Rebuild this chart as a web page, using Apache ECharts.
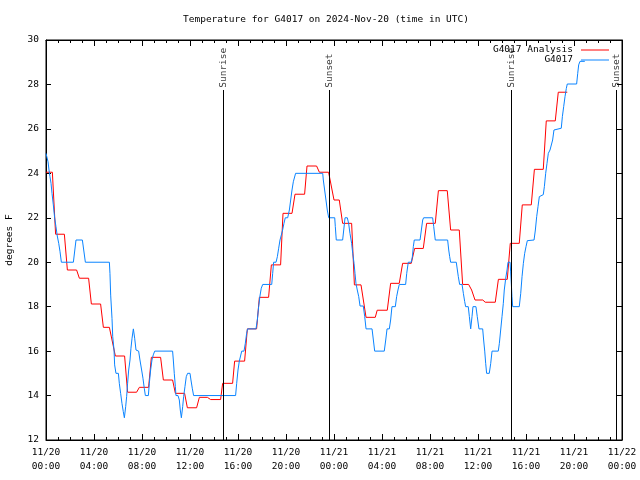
<!DOCTYPE html>
<html>
<head>
<meta charset="utf-8">
<script src="https://cdn.jsdelivr.net/npm/echarts@6/dist/echarts.min.js"></script>
<style>html,body{margin:0;padding:0;background:#fff}#c{width:640px;height:480px}</style>
</head>
<body>
<div id="c"></div>
<script>
// Hours since 2024-11-20 00:00 UTC, temperatures in degrees F
const redT = [0,0.53,0.8,1.53,1.78,2.55,2.78,3.55,3.78,4.55,4.78,5.28,5.78,6.55,6.8,7.55,7.78,8.55,8.78,9.55,9.78,10.55,10.78,11.55,11.78,12.55,12.78,13.45,13.72,14.55,14.72,15.55,15.72,16.55,16.78,17.55,17.78,18.55,18.78,19.55,19.75,20.5,20.75,21.55,21.75,22.55,22.78,23.55,24.0,24.44,24.72,25.47,25.7,26.25,26.67,27.44,27.6,28.44,28.72,29.44,29.72,30.44,30.72,31.44,31.72,32.44,32.7,33.44,33.72,34.44,34.72,35.22,35.47,35.75,36.4,36.6,37.44,37.7,38.44,38.69,39.44,39.69,40.44,40.7,41.44,41.69,42.44,42.69,43.44];
const redF = [24.05,24.05,21.26,21.26,19.65,19.65,19.28,19.28,18.12,18.12,17.07,17.07,15.78,15.78,14.15,14.15,14.37,14.37,15.72,15.72,14.7,14.7,14.1,14.1,13.45,13.45,13.92,13.92,13.82,13.82,14.55,14.55,15.55,15.55,17.0,17.0,18.42,18.42,19.88,19.88,22.2,22.2,23.06,23.06,24.33,24.33,24.05,24.05,22.8,22.8,21.75,21.75,18.98,18.98,17.52,17.52,17.84,17.84,19.05,19.05,19.95,19.95,20.62,20.62,21.75,21.75,23.22,23.22,21.45,21.45,19.0,19.0,18.75,18.3,18.3,18.2,18.2,19.23,19.23,20.85,20.85,22.58,22.58,24.18,24.18,26.36,26.36,27.65,27.65];

const blueT = [0,0.17,0.25,0.33,0.42,0.5,0.61,0.72,0.83,0.94,1.06,1.17,1.28,2.28,2.5,3.03,3.28,5.28,5.33,5.39,5.5,5.56,5.67,5.72,5.83,6.03,6.11,6.22,6.33,6.44,6.53,6.64,6.72,6.8,6.89,7.0,7.08,7.17,7.28,7.39,7.5,7.72,7.83,7.97,8.08,8.19,8.28,8.53,8.61,8.72,8.83,8.94,9.06,10.55,10.61,10.69,10.78,10.83,11.0,11.11,11.19,11.28,11.39,11.47,11.58,11.69,11.8,12.0,12.08,12.19,12.3,15.8,15.89,16.0,16.11,16.31,16.5,16.61,16.72,16.8,17.5,17.61,17.72,17.83,17.94,18.06,18.81,18.89,18.97,19.17,19.28,19.39,19.5,19.61,19.72,19.83,19.94,20.14,20.28,20.39,20.5,20.61,20.8,23.06,23.11,23.22,23.33,23.44,23.56,24.06,24.11,24.19,24.72,24.81,24.92,25.11,25.22,25.33,25.47,25.56,25.67,25.75,25.83,25.94,26.06,26.17,26.44,26.56,26.67,27.17,27.28,27.39,28.19,28.31,28.42,28.61,28.72,28.83,29.11,29.22,29.33,29.44,29.97,30.06,30.19,30.44,30.53,30.61,30.69,31.17,31.28,31.39,31.47,32.22,32.31,32.44,33.47,33.56,33.64,33.72,34.19,34.28,34.36,34.47,34.67,34.78,34.89,34.97,35.19,35.28,35.39,35.5,35.58,35.83,35.94,36.08,36.39,36.47,36.56,36.64,36.72,36.94,37.06,37.17,37.69,37.78,37.89,38.0,38.11,38.19,38.31,38.42,38.5,38.67,38.72,38.78,38.83,38.89,39.44,39.56,39.67,39.78,39.89,40.0,40.11,40.67,40.78,40.89,41.0,41.11,41.22,41.44,41.53,41.64,41.75,41.86,42.0,42.14,42.22,42.33,42.44,42.94,43.03,43.14,43.25,43.36,43.44,44.22,44.31,44.39,44.5,44.9];
const blueF = [24.9,24.52,24.15,23.85,23.55,23.1,22.58,22.0,21.6,21.18,20.85,20.47,20,20,21,21,20,20,19.5,18.52,17.47,16.65,16.05,15.38,15,15,14.55,14.1,13.65,13.28,13,13.5,13.95,14.55,15.15,15.6,16.13,16.58,17,16.58,16.05,16,15.6,15.15,14.78,14.33,14,14,14.55,15.15,15.6,15.83,16,16,15.6,15,14.4,14,14,13.8,13.35,13,13.5,13.95,14.4,14.85,15,15,14.7,14.33,14,14,14.55,15.15,15.55,16,16,16.35,16.8,17,17,17.4,18.0,18.48,18.83,19,19,19.5,20,20,20.25,20.63,21,21,21.45,21.75,22,22,22.35,22.8,23.25,23.62,24,24,23.7,23.25,22.8,22.35,22,22,21.6,21,21,21.45,22,22,21.75,21.3,20.85,20.4,19.95,19.5,19.05,18.75,18.45,18.03,18.03,17.55,17,17,16.5,16,16,16.5,17,17,17.4,18,18,18.45,18.75,19,19,19.5,20,20,20.25,20.7,21,21,21.45,21.9,22,22,21.6,21,21,20.55,20.25,20,20,19.65,19.35,19,19,18.6,18.23,18,18,17.55,17,17.55,18,18,17.55,17,17,16.5,16,15.45,15,15,15.45,16,16,16.35,16.95,17.55,18.15,18.75,19.28,19.65,20,20,19.6,19,18.45,18,18,18.6,19.35,19.95,20.4,20.7,20.97,21,21.45,22.05,22.5,22.95,23.04,23.04,23.4,24.0,24.45,24.9,25.05,25.05,25.5,25.95,26.03,26.03,26.55,27.0,27.45,27.82,28.02,28.02,28.5,28.88,29.04,29.04];

const eventT = [14.78, 23.61, 38.78, 47.53];
const eventNames = ['Sunrise', 'Sunset', 'Sunrise', 'Sunset'];
const eventLineTop = 27.75;
const eventLabelY = 27.85;

const seriesNames = ['G4017 Analysis', 'G4017'];
const seriesColors = ['#ff0000', '#0a84ff'];
const yTicks = {min: 12, max: 30, interval: 2};
const xTicks = {min: 0, max: 48, interval: 4};

const FONT = 'DejaVu Sans Mono';
const FS = 9.5;
const zip = (a, b) => a.map((v, i) => [v, b[i]]);
const pad = n => (n < 10 ? '0' : '') + n;
const LINE_ICON = 'path://M0,0L28,0L28,1L0,1Z';

const chart = echarts.init(document.getElementById('c'), null, {renderer: 'canvas'});
const axisCommon = {
  type: 'value',
  axisLine: {show: true, onZero: false, lineStyle: {color: '#000', width: 1}},
  splitLine: {show: false},
};
chart.setOption({
  animation: false,
  backgroundColor: '#fff',
  title: {
    text: 'Temperature for G4017 on 2024-Nov-20 (time in UTC)',
    left: 321, top: 10, textAlign: 'center',
    textStyle: {fontFamily: FONT, fontSize: FS, fontWeight: 'normal', color: '#000'}
  },
  legend: {
    orient: 'vertical', right: 31, top: 45, align: 'right', padding: 0,
    itemWidth: 28, itemHeight: 12, itemGap: 0,
    data: seriesNames.map((n, i) => ({name: n, icon: LINE_ICON, itemStyle: {color: seriesColors[i]}})),
    textStyle: {fontFamily: FONT, fontSize: FS, color: '#000', padding: [0, 3, 0, 0]}
  },
  grid: {left: 46, right: 18, top: 40, bottom: 40, containLabel: false, outerBoundsMode: 'none',
    show: true, borderColor: '#000', borderWidth: 1, backgroundColor: 'transparent'},
  xAxis: [
    Object.assign({}, axisCommon, {
      position: 'bottom', min: xTicks.min, max: xTicks.max, interval: xTicks.interval,
      axisTick: {show: true, inside: true, length: 6, lineStyle: {color: '#000'}},
      minorTick: {show: true, splitNumber: 4, length: 3, lineStyle: {color: '#000'}},
      axisLabel: {
        margin: 6, fontFamily: FONT, fontSize: FS, color: '#000', lineHeight: 14,
        formatter: v => '11/' + (20 + Math.floor(v / 24)) + '\n' + pad(v % 24) + ':00'
      }
    }),
    Object.assign({}, axisCommon, {
      position: 'top', min: xTicks.min, max: xTicks.max, interval: xTicks.interval,
      axisTick: {show: true, inside: true, length: 6, lineStyle: {color: '#000'}},
      minorTick: {show: true, splitNumber: 4, length: 3, lineStyle: {color: '#000'}},
      axisLabel: {show: false}
    })
  ],
  yAxis: [
    Object.assign({}, axisCommon, {
      position: 'left', min: yTicks.min, max: yTicks.max, interval: yTicks.interval,
      name: 'degrees F', nameLocation: 'middle', nameRotate: 90, nameGap: 31,
      nameTextStyle: {fontFamily: FONT, fontSize: FS, color: '#000'},
      axisTick: {show: true, inside: true, length: 5, lineStyle: {color: '#000'}},
      axisLabel: {margin: 7, fontFamily: FONT, fontSize: FS, color: '#000'}
    }),
    Object.assign({}, axisCommon, {
      position: 'right', min: yTicks.min, max: yTicks.max, interval: yTicks.interval,
      axisTick: {show: true, inside: true, length: 5, lineStyle: {color: '#000'}},
      axisLabel: {show: false}
    })
  ],
  series: [
    {
      name: 'events', type: 'scatter', symbolSize: 0, z: 1, silent: true,
      data: eventT.map((t, i) => ({value: [t, eventLabelY], name: eventNames[i]})),
      label: {
        show: true, position: 'inside', rotate: 90, align: 'left', verticalAlign: 'middle',
        formatter: p => p.name, fontFamily: FONT, fontSize: FS, color: '#000'
      },
      markLine: {
        silent: true, symbol: 'none', animation: false,
        lineStyle: {color: '#000', width: 1, type: 'solid'},
        label: {show: false},
        data: eventT.map(t => [{coord: [t, yTicks.min]}, {coord: [t, eventLineTop]}])
      }
    },
    {
      name: seriesNames[0], type: 'line', data: zip(redT, redF), showSymbol: false, symbol: 'none', z: 2,
      lineStyle: {color: seriesColors[0], width: 1}, itemStyle: {color: seriesColors[0]}
    },
    {
      name: seriesNames[1], type: 'line', data: zip(blueT, blueF), showSymbol: false, symbol: 'none', z: 3,
      lineStyle: {color: seriesColors[1], width: 1}, itemStyle: {color: seriesColors[1]}
    }
  ]
});
</script>
</body>
</html>
